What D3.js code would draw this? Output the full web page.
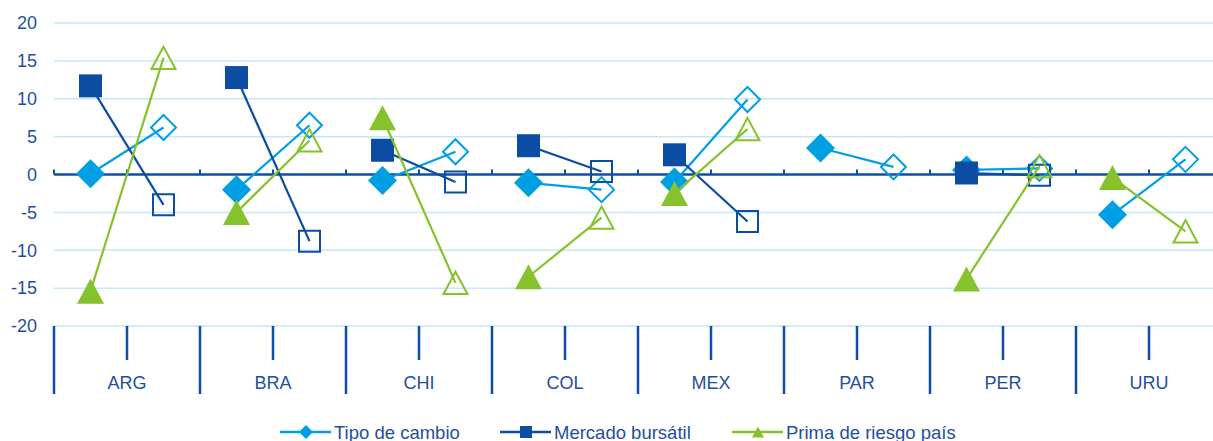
<html>
<head>
<meta charset="utf-8">
<script src="https://d3js.org/d3.v7.min.js"></script>
<style>
  body { margin: 0; background: #fff; }
  text { font-family: "Liberation Sans", Arial, sans-serif; font-size: 18px; fill: #1f4f9f; }
</style>
</head>
<body>
<svg id="chart" width="1213" height="441"></svg>
<script>
// data (before / after per country)
var countries = ["ARG", "BRA", "CHI", "COL", "MEX", "PAR", "PER", "URU"];
var periods = ["antes", "despues"];
var yTicks = [-20, -15, -10, -5, 0, 5, 10, 15, 20];
var tipoCambio      = [[0.1, 6.2], [-2.0, 6.5], [-0.8, 3.0], [-1.1, -2.0], [-1.0, 9.9], [3.5, 1.0], [0.6, 0.8], [-5.3, 2.0]];
var mercadoBursatil = [[11.7, -4.0], [12.8, -8.8], [3.2, -1.0], [3.8, 0.4], [2.6, -6.2], null, [0.2, -0.1], null];
var primaRiesgo     = [[-15.4, 15.4], [-5.0, 4.5], [7.5, -14.3], [-13.5, -5.7], [-2.5, 6.0], null, [-13.8, 1.1], [-0.4, -7.5]];

var series = [
  {name: "Tipo de cambio", values: tipoCambio, color: "#009fe3", shape: "diamond"},
  {name: "Mercado bursátil", values: mercadoBursatil, color: "#0b4da2", shape: "square"},
  {name: "Prima de riesgo país", values: primaRiesgo, color: "#86c22b", shape: "triangle"}
];

var axisColor = "#0d4fa8";
var gridColor = "#c4e8f8";

var svg = d3.select("#chart");
var plotLeft = 54, plotRight = 1222, plotTop = 23, plotBottom = 326;

var x = d3.scaleBand().domain(countries).range([plotLeft, plotRight]);
var xSub = d3.scaleBand().domain(periods).range([0, x.bandwidth()]);
var y = d3.scaleLinear().domain([-20, 20]).range([plotBottom, plotTop]);

function markerPath(shape, s) {
  if (shape == "diamond") return "M0," + (-s) + "L" + s + ",0L0," + s + "L" + (-s) + ",0Z";
  if (shape == "square") return "M" + (-s) + "," + (-s) + "H" + s + "V" + s + "H" + (-s) + "Z";
  var h = s * 0.93;
  return "M0," + (-h) + "L" + s + "," + h + "L" + (-s) + "," + h + "Z";
}
var filledSize = {diamond: 14.5, square: 11.5, triangle: 13.5};
var openSize = {diamond: 12.5, square: 10.5, triangle: 12};

// gridlines
svg.append("g").selectAll("line")
  .data(yTicks.filter(function(d) { return d != 0; }))
  .enter().append("line")
  .attr("x1", plotLeft).attr("x2", 1213)
  .attr("y1", function(d) { return y(d); }).attr("y2", function(d) { return y(d); })
  .attr("stroke", gridColor).attr("stroke-width", 1.5);

// y axis labels (plain hyphen for negatives, like the original)
svg.append("g")
  .attr("transform", "translate(" + plotLeft + ",0)")
  .call(d3.axisLeft(y).tickValues(yTicks).tickSize(0).tickPadding(17)
    .tickFormat(function(d) { return String(d); }))
  .call(function(g) { g.select(".domain").remove(); })
  .selectAll("text").style("font-size", "18px").attr("fill", "#1f4f9f")
  .style("font-family", "'Liberation Sans', Arial, sans-serif");

// zero line with ticks at every sub-category boundary
var subEdges = [];
countries.forEach(function(c) {
  subEdges.push(x(c));
  subEdges.push(x(c) + xSub("despues"));
});
var zero = svg.append("g");
zero.append("line")
  .attr("x1", plotLeft).attr("x2", 1213)
  .attr("y1", y(0)).attr("y2", y(0))
  .attr("stroke", axisColor).attr("stroke-width", 2.5);
zero.selectAll(".tick")
  .data(subEdges)
  .enter().append("line")
  .attr("x1", function(d) { return d; }).attr("x2", function(d) { return d; })
  .attr("y1", y(0)).attr("y2", y(0) - 5)
  .attr("stroke", axisColor).attr("stroke-width", 2);

// bottom category axis
var bottomAxis = svg.append("g");
bottomAxis.selectAll(".sep")
  .data(countries)
  .enter().append("line")
  .attr("x1", function(d) { return x(d); }).attr("x2", function(d) { return x(d); })
  .attr("y1", plotBottom).attr("y2", plotBottom + 68)
  .attr("stroke", axisColor).attr("stroke-width", 2.5);
bottomAxis.selectAll(".mid")
  .data(countries)
  .enter().append("line")
  .attr("x1", function(d) { return x(d) + x.bandwidth() / 2; }).attr("x2", function(d) { return x(d) + x.bandwidth() / 2; })
  .attr("y1", plotBottom).attr("y2", plotBottom + 34)
  .attr("stroke", axisColor).attr("stroke-width", 2.5);
bottomAxis.selectAll("text")
  .data(countries)
  .enter().append("text")
  .attr("x", function(d) { return x(d) + x.bandwidth() / 2; })
  .attr("y", plotBottom + 63)
  .attr("text-anchor", "middle")
  .text(function(d) { return d; });

function px(c, p) { return x(c) + xSub(p) + xSub.bandwidth() / 2; }

// series
series.forEach(function(s) {
  var g = svg.append("g");
  var pairs = [];
  s.values.forEach(function(v, i) { if (v) pairs.push({c: countries[i], v: v}); });

  g.selectAll("line")
    .data(pairs)
    .enter().append("line")
    .attr("x1", function(d) { return px(d.c, "antes"); })
    .attr("y1", function(d) { return y(d.v[0]); })
    .attr("x2", function(d) { return px(d.c, "despues"); })
    .attr("y2", function(d) { return y(d.v[1]); })
    .attr("stroke", s.color).attr("stroke-width", 2.2);

  g.selectAll(".filled")
    .data(pairs)
    .enter().append("path")
    .attr("d", markerPath(s.shape, filledSize[s.shape]))
    .attr("transform", function(d) { return "translate(" + px(d.c, "antes") + "," + y(d.v[0]) + ")"; })
    .attr("fill", s.color);

  g.selectAll(".open")
    .data(pairs)
    .enter().append("path")
    .attr("d", markerPath(s.shape, openSize[s.shape]))
    .attr("transform", function(d) { return "translate(" + px(d.c, "despues") + "," + y(d.v[1]) + ")"; })
    .attr("fill", "none")
    .attr("stroke", s.color).attr("stroke-width", 2);
});

// legend
var legendX = [280, 500, 732];
var legend = svg.append("g").selectAll("g")
  .data(series)
  .enter().append("g")
  .attr("transform", function(d, i) { return "translate(" + legendX[i] + ",432)"; });
legend.append("line")
  .attr("x1", 0).attr("x2", 51)
  .attr("stroke", function(d) { return d.color; }).attr("stroke-width", 2.5);
legend.append("path")
  .attr("d", function(d) { return markerPath(d.shape, d.shape == "diamond" ? 7 : 6); })
  .attr("transform", "translate(26,0)")
  .attr("fill", function(d) { return d.color; });
legend.append("text")
  .attr("x", 54).attr("y", 6.5)
  .style("font-size", "18.5px")
  .text(function(d) { return d.name; });
</script>
</body>
</html>
